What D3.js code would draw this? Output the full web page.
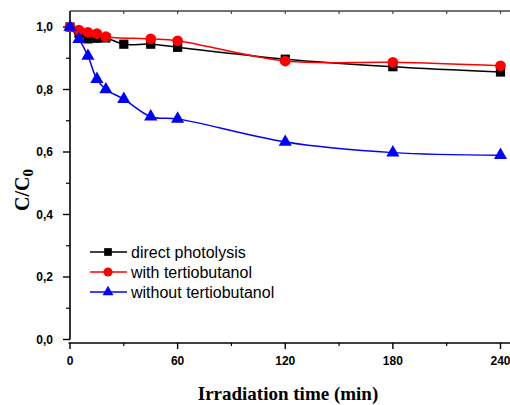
<!DOCTYPE html>
<html>
<head>
<meta charset="utf-8">
<script src="https://cdn.jsdelivr.net/npm/d3@7"></script>
<style>
  body { margin: 0; background: #fff; }
  svg { display: block; }
</style>
</head>
<body>
<svg id="chart" width="510" height="405"></svg>
<script>
// irradiation time (min)
const times = [0, 5, 10, 15, 20, 30, 45, 60, 120, 180, 240];
const timesRed = [0, 5, 10, 15, 20, 45, 60, 120, 180, 240];

const directPhotolysis = [1.0, 0.98, 0.962, 0.964, 0.965, 0.945, 0.945, 0.935, 0.897, 0.873, 0.856];
const withTertiobutanol = [1.0, 0.99, 0.983, 0.979, 0.969, 0.962, 0.956, 0.891, 0.887, 0.876];
const withoutTertiobutanol = [1.0, 0.961, 0.907, 0.833, 0.80, 0.769, 0.713, 0.706, 0.632, 0.598, 0.590];

const xMajorTicks = [0, 60, 120, 180, 240];
const xMinorTicks = [30, 90, 150, 210];
const yMajorTicks = [0, 0.2, 0.4, 0.6, 0.8, 1.0];
const yMinorTicks = [0.1, 0.3, 0.5, 0.7, 0.9];

const series = [
  { name: 'direct photolysis', color: '#000000', symbol: d3.symbolSquare, size: 85, x: times, y: directPhotolysis },
  { name: 'with tertiobutanol', color: '#ff0000', symbol: d3.symbolCircle, size: 90, x: timesRed, y: withTertiobutanol },
  { name: 'without tertiobutanol', color: '#0000ff', symbol: d3.symbolTriangle, size: 75, x: times, y: withoutTertiobutanol }
];

const PLOT = { left: 70, top: 11, right: 515, yZero: 339.5, xAxisY: 343 };

const x = d3.scaleLinear().domain([0, 240]).range([PLOT.left, 500.5]);
const y = d3.scaleLinear().domain([0, 1.0]).range([PLOT.yZero, 27]);

const svg = d3.select('#chart');
const fmt = d => d3.format('.1f')(d).replace('.', ',');

// frame: left axis, top border
svg.append('line')
  .attr('x1', PLOT.left).attr('x2', PLOT.left)
  .attr('y1', PLOT.top).attr('y2', PLOT.yZero)
  .attr('stroke', '#000').attr('stroke-width', 1.6);
svg.append('line')
  .attr('x1', PLOT.left).attr('x2', PLOT.right)
  .attr('y1', PLOT.top).attr('y2', PLOT.top)
  .attr('stroke', '#444').attr('stroke-width', 1.6);

// bottom axis, offset slightly below zero
svg.append('line')
  .attr('x1', PLOT.left - 1.5).attr('x2', PLOT.right)
  .attr('y1', PLOT.xAxisY).attr('y2', PLOT.xAxisY)
  .attr('stroke', '#000').attr('stroke-width', 1.6);

const xt = svg.append('g');
xt.selectAll('.maj').data(xMajorTicks).enter().append('line')
  .attr('x1', d => x(d)).attr('x2', d => x(d))
  .attr('y1', PLOT.xAxisY).attr('y2', PLOT.xAxisY + 6)
  .attr('stroke', '#000').attr('stroke-width', 1.4);
xt.selectAll('.min').data(xMinorTicks).enter().append('line')
  .attr('x1', d => x(d)).attr('x2', d => x(d))
  .attr('y1', PLOT.xAxisY).attr('y2', PLOT.xAxisY + 3)
  .attr('stroke', '#000').attr('stroke-width', 1.2);
xt.selectAll('text').data(xMajorTicks).enter().append('text')
  .attr('x', d => x(d)).attr('y', 365)
  .attr('text-anchor', 'middle')
  .attr('font-family', 'Arial, "Liberation Sans", sans-serif')
  .attr('font-weight', 'bold').attr('font-size', 12)
  .text(d => d);

// top border ticks (inward)
svg.append('g').selectAll('line').data(xMajorTicks.concat(xMinorTicks).filter(d => d > 0)).enter().append('line')
  .attr('x1', d => x(d)).attr('x2', d => x(d))
  .attr('y1', PLOT.top).attr('y2', PLOT.top + 3)
  .attr('stroke', '#444').attr('stroke-width', 1.2);

// left axis ticks
const yt = svg.append('g');
yt.selectAll('.maj').data(yMajorTicks).enter().append('line')
  .attr('x1', PLOT.left - 7).attr('x2', PLOT.left)
  .attr('y1', d => y(d)).attr('y2', d => y(d))
  .attr('stroke', '#000').attr('stroke-width', 1.4);
yt.selectAll('.min').data(yMinorTicks).enter().append('line')
  .attr('x1', PLOT.left - 4).attr('x2', PLOT.left)
  .attr('y1', d => y(d)).attr('y2', d => y(d))
  .attr('stroke', '#000').attr('stroke-width', 1.2);
yt.selectAll('text').data(yMajorTicks).enter().append('text')
  .attr('x', 53).attr('y', d => y(d) + 4)
  .attr('text-anchor', 'end')
  .attr('font-family', 'Arial, "Liberation Sans", sans-serif')
  .attr('font-weight', 'bold').attr('font-size', 12)
  .text(fmt);

// axis titles
svg.append('text')
  .attr('x', 288).attr('y', 400)
  .attr('text-anchor', 'middle')
  .attr('font-family', '"Times New Roman", "Liberation Serif", serif')
  .attr('font-weight', 'bold').attr('font-size', 19)
  .text('Irradiation time (min)');

const yTitle = svg.append('text')
  .attr('transform', 'translate(29,190) rotate(-90)')
  .attr('text-anchor', 'middle')
  .attr('font-family', '"Times New Roman", "Liberation Serif", serif')
  .attr('font-weight', 'bold').attr('font-size', 20);
yTitle.append('tspan').text('C/C');
yTitle.append('tspan').attr('dy', 4).attr('font-size', 15).text('0');

// series
const line = d3.line().curve(d3.curveCatmullRom.alpha(0.5));
series.forEach(s => {
  const pts = s.x.map((t, i) => [x(t), y(s.y[i])]);
  svg.append('path')
    .attr('d', line(pts))
    .attr('fill', 'none')
    .attr('stroke', s.color)
    .attr('stroke-width', 1.5);
});
series.forEach(s => {
  const sym = d3.symbol().type(s.symbol).size(s.size);
  svg.append('g').selectAll('path').data(s.x).enter().append('path')
    .attr('transform', (t, i) => `translate(${x(t)},${y(s.y[i])})`)
    .attr('d', sym)
    .attr('fill', s.color);
});

// legend
const legend = svg.append('g');
series.forEach((s, i) => {
  const ly = 252 + i * 20;
  legend.append('line')
    .attr('x1', 90).attr('x2', 127)
    .attr('y1', ly).attr('y2', ly)
    .attr('stroke', s.color).attr('stroke-width', 1.5);
  legend.append('path')
    .attr('transform', `translate(108,${ly})`)
    .attr('d', d3.symbol().type(s.symbol).size(s.size * 0.7))
    .attr('fill', s.color);
  legend.append('text')
    .attr('x', 131).attr('y', ly + 5.5)
    .attr('font-family', 'Arial, "Liberation Sans", sans-serif')
    .attr('font-size', 16)
    .text(s.name);
});
</script>
</body>
</html>
